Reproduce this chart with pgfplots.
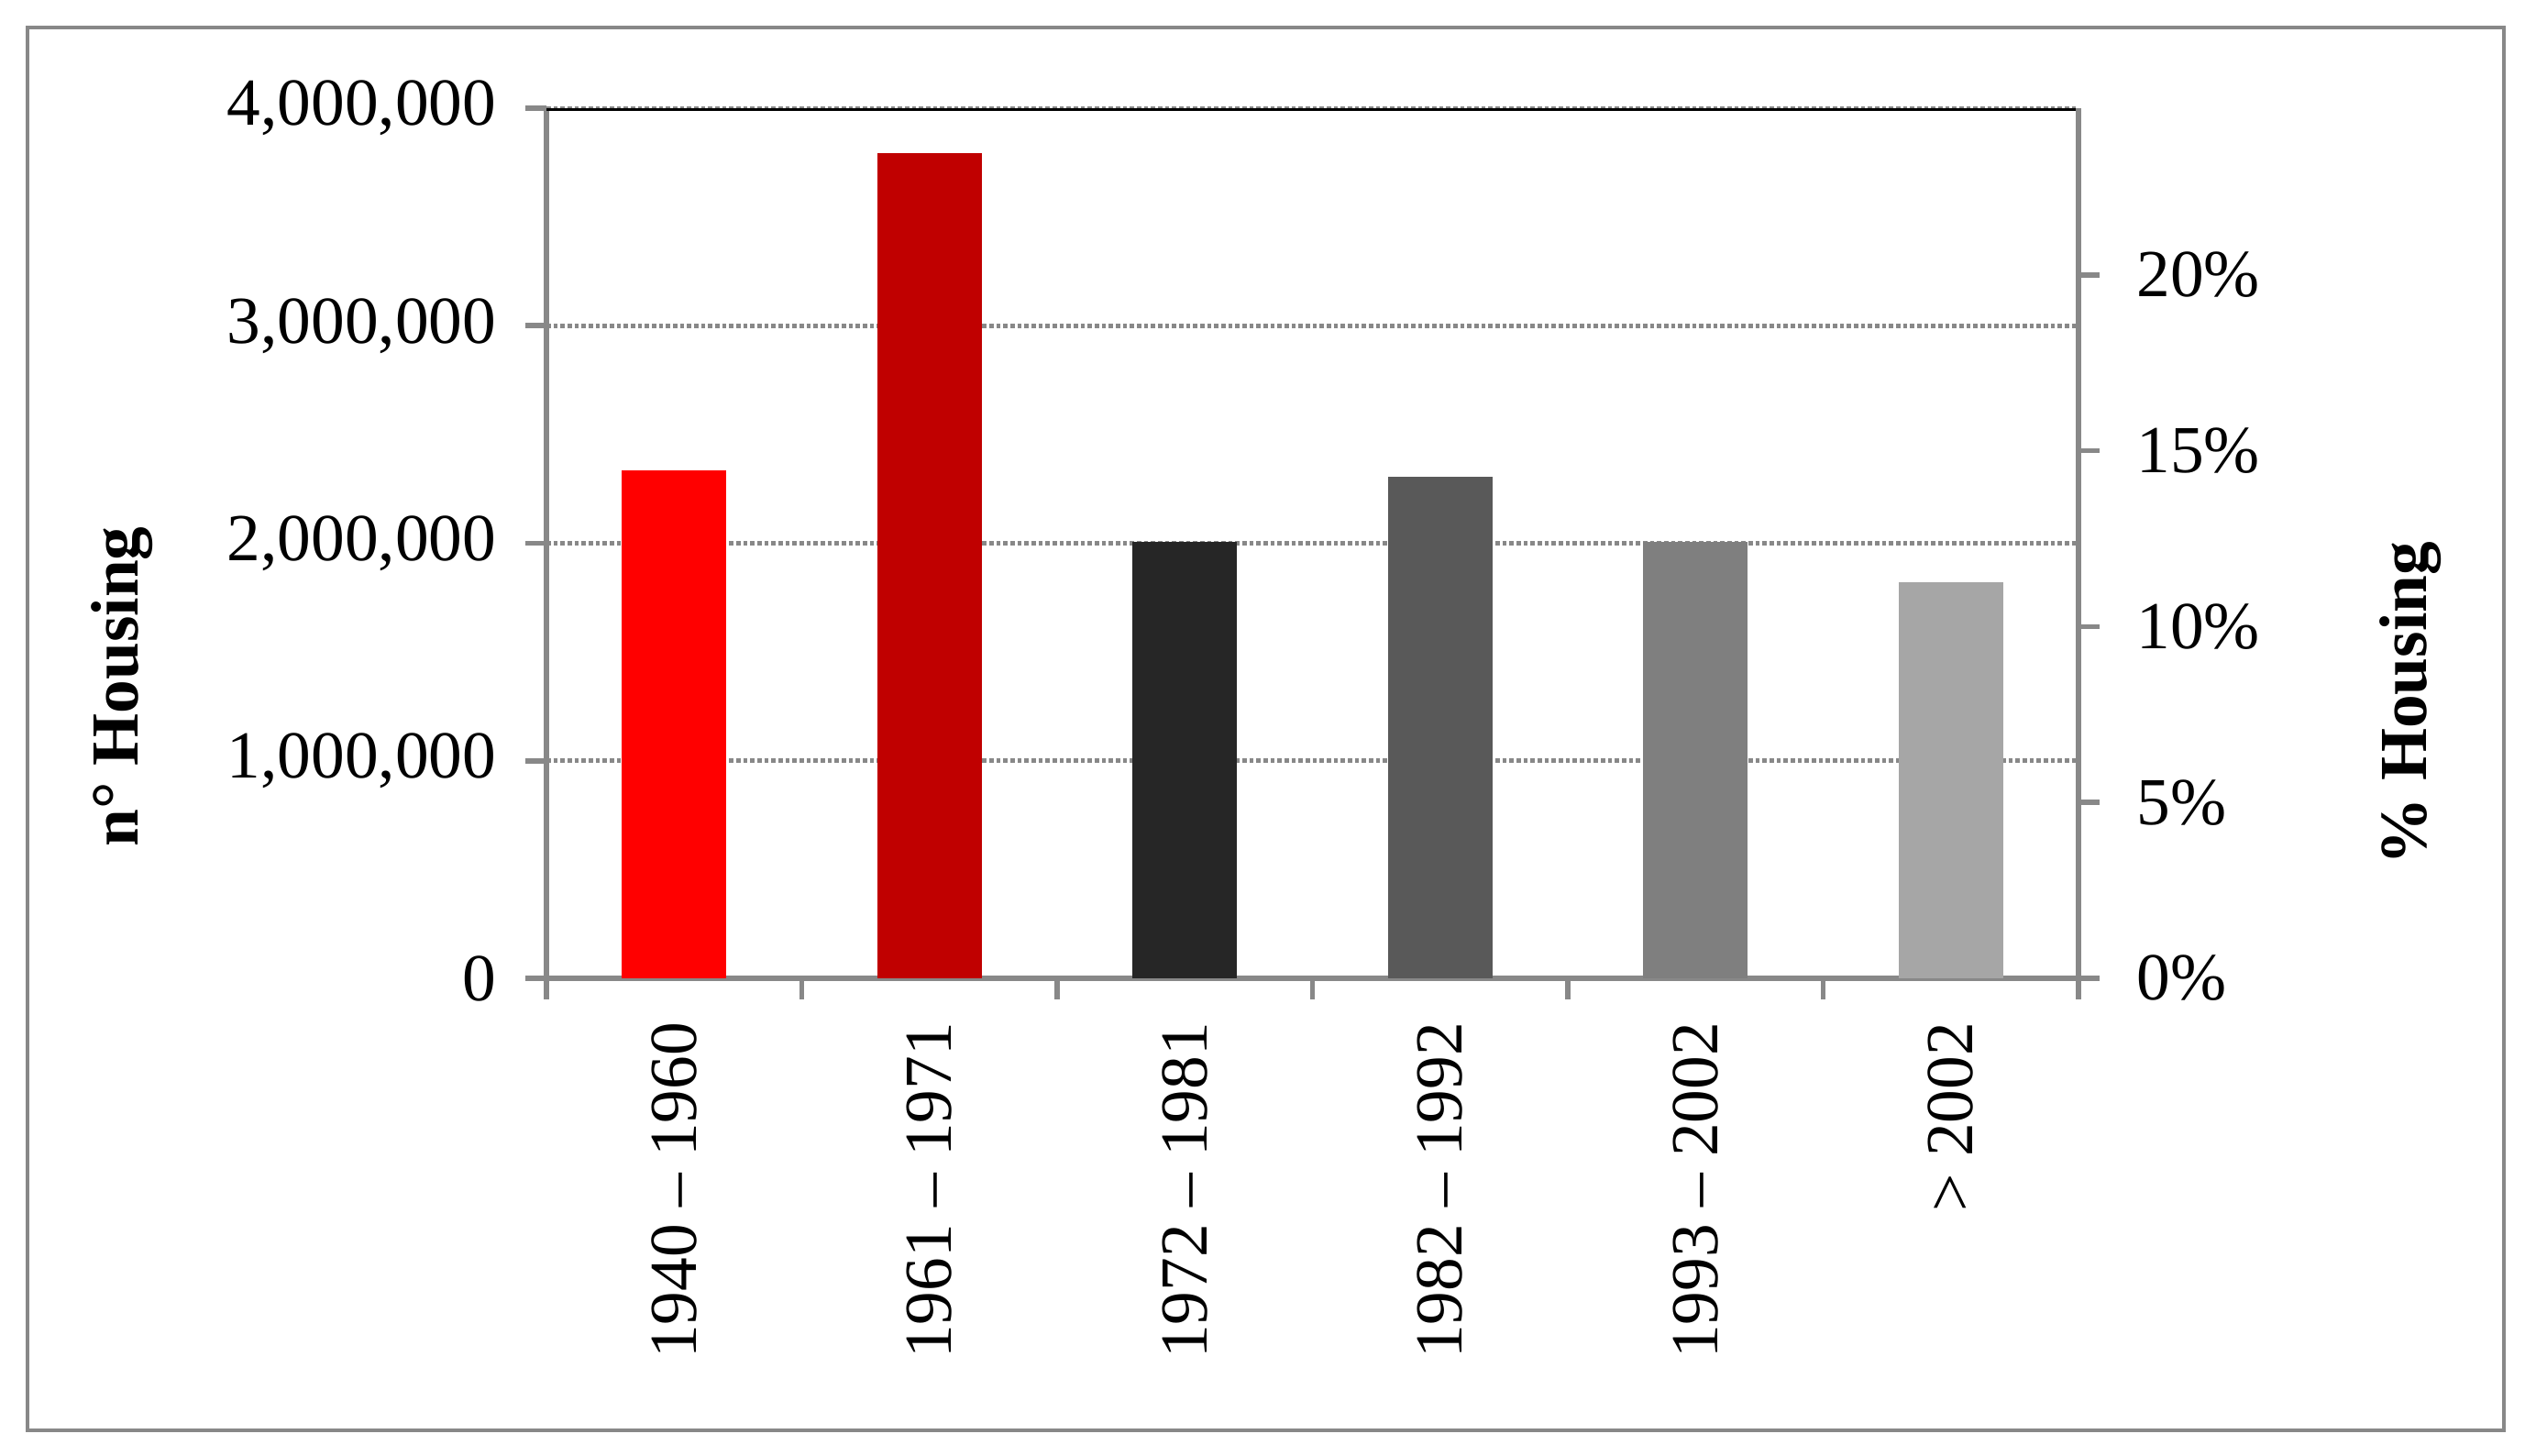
\documentclass[border=0pt]{standalone}
\usepackage{fontspec}
\setmainfont{Liberation Serif}
\usepackage{pgfplots}
\pgfplotsset{compat=1.18}

\definecolor{axgray}{HTML}{888888}
\definecolor{barA}{HTML}{FF0000}
\definecolor{barB}{HTML}{C00000}
\definecolor{barC}{HTML}{262626}
\definecolor{barD}{HTML}{595959}
\definecolor{barE}{HTML}{7F7F7F}
\definecolor{barF}{HTML}{A6A6A6}

\pgfplotsset{
  common/.style={
    at={(89.4pt,78.15pt)}, anchor=south west,
    scale only axis, width=250.65pt, height=142.35pt,
    axis line style={axgray, line width=0.85pt},
    tick align=outside, major tick length=3.4pt,
    tick style={axgray, line width=0.85pt},
    tick label style={font=\fontsize{11}{13}\selectfont},
    label style={font=\fontsize{11}{13}\selectfont\bfseries},
  }
}

\begin{document}
\begin{tikzpicture}
\useasboundingbox (0,0) rectangle (414.9pt,238.2pt);
\draw[axgray, line width=0.6pt] (4.5pt,4.2pt) rectangle (409.7pt,233.7pt);

% left axis: number of dwellings
\begin{axis}[
  common,
  xmin=-0.5, xmax=5.5, ymin=0, ymax=4000000,
  axis x line*=bottom, axis y line*=left,
  xtick={0,...,5},
  xticklabels={1940 -- 1960, 1961 -- 1971, 1972 -- 1981, 1982 -- 1992, 1993 -- 2002, > 2002},
  xticklabel style={rotate=90, anchor=east, xshift=-0.3pt},
  major x tick style={draw=none},
  minor xtick={-0.5,0.5,...,5.5},
  minor tick length=3.4pt,
  minor x tick style={axgray, line width=0.85pt},
  ytick={0,1000000,2000000,3000000,4000000},
  scaled y ticks=false,
  yticklabel style={/pgf/number format/.cd, fixed, 1000 sep={,}, assume math mode=true, /tikz/.cd, xshift=-1.3pt},
  ymajorgrids=true,
  major grid style={axgray, line width=0.7pt, dash pattern=on 0.7pt off 0.45pt},
  ylabel={n° Housing},
  ylabel style={at={(axis description cs:-0.277,0.335)}, anchor=center},
  ybar, bar width=0.41, bar shift=0pt,
]
\addplot[fill=barA, draw=none] coordinates {(0,2334000)};
\addplot[fill=barB, draw=none] coordinates {(1,3792000)};
\addplot[fill=barC, draw=none] coordinates {(2,2007000)};
\addplot[fill=barD, draw=none] coordinates {(3,2305000)};
\addplot[fill=barE, draw=none] coordinates {(4,2007000)};
\addplot[fill=barF, draw=none] coordinates {(5,1822000)};
\draw[black, line width=0.9pt] (rel axis cs:0,1) -- (rel axis cs:1,1);
\end{axis}

% right axis: share of dwellings
\begin{axis}[
  common,
  xmin=0, xmax=1, ymin=0, ymax=24.74,
  axis x line=none, axis y line*=right,
  ytick={0,5,10,15,20},
  yticklabel={\pgfmathprintnumber[assume math mode=true]{\tick}\%},
  yticklabel style={xshift=2.6pt},
  ylabel={\% Housing},
  ylabel style={at={(axis description cs:1.2165,0.316)}, anchor=center, rotate=0},
]
\end{axis}
\end{tikzpicture}
\end{document}
